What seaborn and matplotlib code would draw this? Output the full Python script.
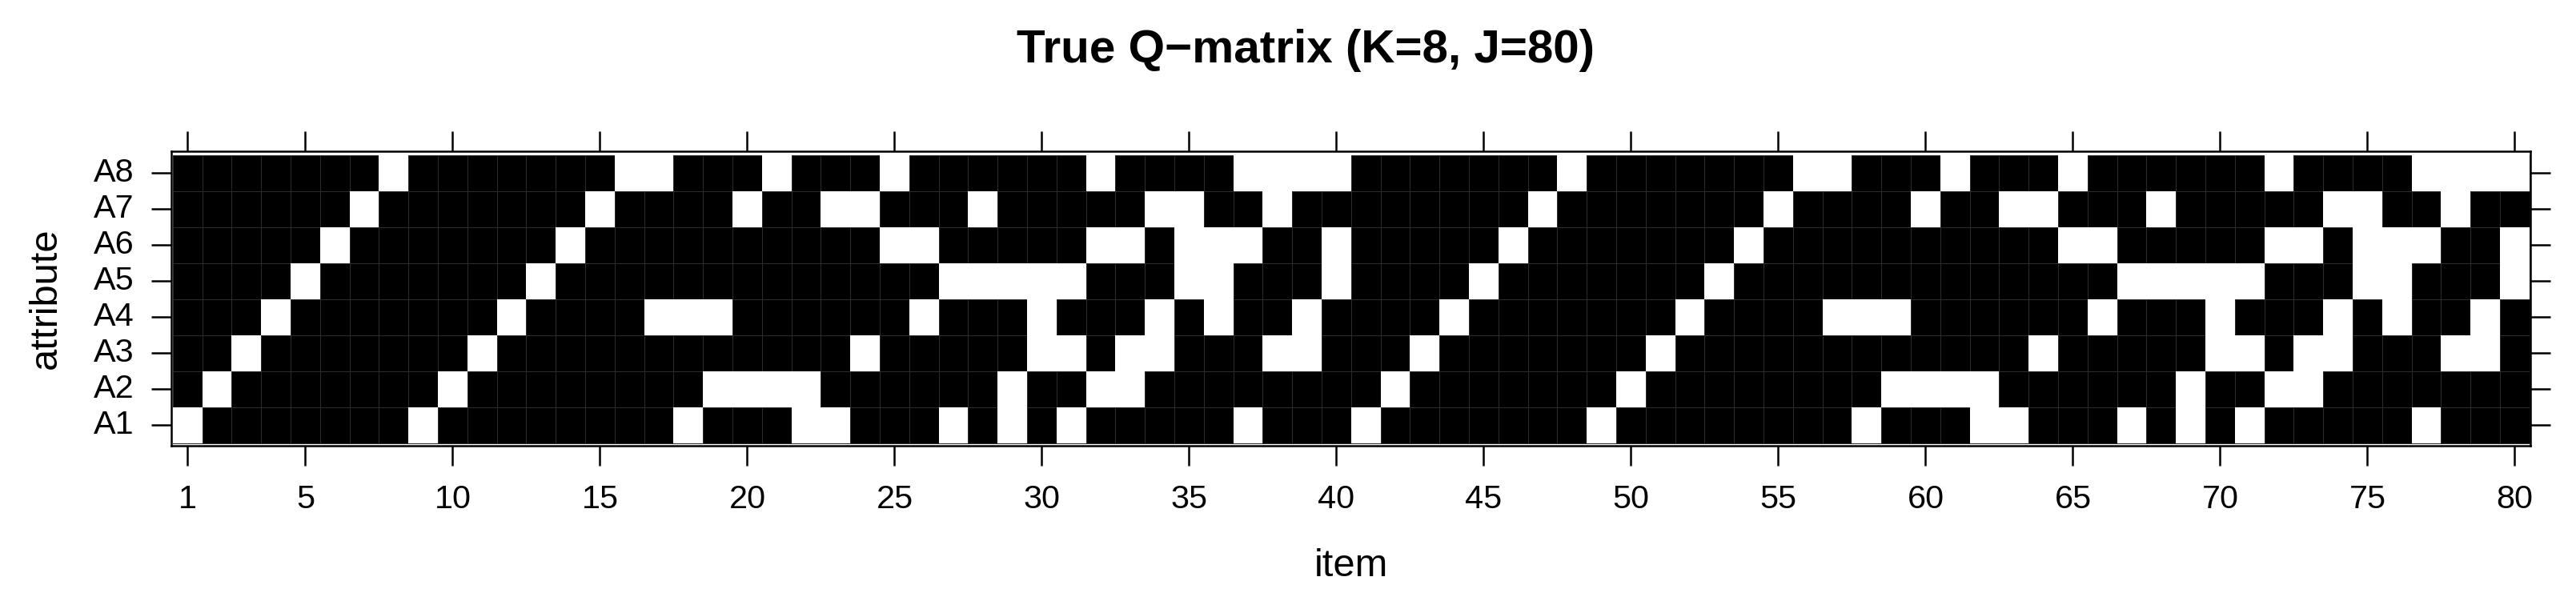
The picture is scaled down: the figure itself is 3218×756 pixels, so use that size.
import numpy as np
import pandas as pd
import matplotlib
matplotlib.use("Agg")
import matplotlib.pyplot as plt
from matplotlib.colors import ListedColormap
from matplotlib import font_manager
import seaborn as sns

# ---- data (1 = attribute required -> white, 0 -> black) ----
items = list(range(1, 81))
attributes = ["A1", "A2", "A3", "A4", "A5", "A6", "A7", "A8"]

A1 = [1,0,0,0,0,0,0,0,1,0, 0,0,0,0,0,0,0,1,0,0, 0,1,1,0,0,0,1,0,1,0, 1,0,0,0,0,0,1,0,0,0,
      1,0,0,0,0,0,0,0,1,0, 0,0,0,0,0,0,0,1,0,0, 0,1,1,0,0,0,1,0,1,0, 1,0,0,0,0,0,1,0,0,0]
A2 = [0,1,0,0,0,0,0,0,0,1, 0,0,0,0,0,0,0,0,1,1, 1,1,0,0,0,0,0,0,1,0, 0,1,1,0,0,0,0,0,0,0,
      0,1,0,0,0,0,0,0,0,1, 0,0,0,0,0,0,0,0,1,1, 1,1,0,0,0,0,0,0,1,0, 0,1,1,0,0,0,0,0,0,0]
A3 = [0,0,1,0,0,0,0,0,0,0, 1,0,0,0,0,0,0,0,0,0, 0,0,0,1,0,0,0,0,0,1, 1,0,1,1,0,0,0,1,1,0,
      0,0,1,0,0,0,0,0,0,0, 1,0,0,0,0,0,0,0,0,0, 0,0,0,1,0,0,0,0,0,1, 1,0,1,1,0,0,0,1,1,0]
A4 = [0,0,0,1,0,0,0,0,0,0, 0,1,0,0,0,0,1,1,1,0, 0,0,0,0,0,1,0,0,0,1, 0,0,0,1,0,1,0,0,1,0,
      0,0,0,1,0,0,0,0,0,0, 0,1,0,0,0,0,1,1,1,0, 0,0,0,0,0,1,0,0,0,1, 0,0,0,1,0,1,0,0,1,0]
A5 = [0,0,0,0,1,0,0,0,0,0, 0,0,1,0,0,0,0,0,0,0, 0,0,0,0,0,0,1,1,1,1, 1,0,0,0,1,1,0,0,0,1,
      0,0,0,0,1,0,0,0,0,0, 0,0,1,0,0,0,0,0,0,0, 0,0,0,0,0,0,1,1,1,1, 1,0,0,0,1,1,0,0,0,1]
A6 = [0,0,0,0,0,1,0,0,0,0, 0,0,0,1,0,0,0,0,0,0, 0,0,0,0,1,1,0,0,0,0, 0,1,1,0,1,1,1,0,0,1,
      0,0,0,0,0,1,0,0,0,0, 0,0,0,1,0,0,0,0,0,0, 0,0,0,0,1,1,0,0,0,0, 0,1,1,0,1,1,1,0,0,1]
A7 = [0,0,0,0,0,0,1,0,0,0, 0,0,0,0,1,0,0,0,0,1, 0,0,1,1,0,0,0,1,0,0, 0,0,0,1,1,0,0,1,0,0,
      0,0,0,0,0,0,1,0,0,0, 0,0,0,0,1,0,0,0,0,1, 0,0,1,1,0,0,0,1,0,0, 0,0,0,1,1,0,0,1,0,0]
A8 = [0,0,0,0,0,0,0,1,0,0, 0,0,0,0,0,1,1,0,0,0, 1,0,0,0,1,0,0,0,0,0, 0,1,0,0,0,0,1,1,1,1,
      0,0,0,0,0,0,0,1,0,0, 0,0,0,0,0,1,1,0,0,0, 1,0,0,0,1,0,0,0,0,0, 0,1,0,0,0,0,1,1,1,1]

x_tick_items = [1, 5, 10, 15, 20, 25, 30, 35, 40, 45, 50, 55, 60, 65, 70, 75, 80]
title_text = "True Q\u2212matrix (K=8, J=80)"

# table for seaborn: top row = A8
rows = {"A1": A1, "A2": A2, "A3": A3, "A4": A4, "A5": A5, "A6": A6, "A7": A7, "A8": A8}
order = attributes[::-1]
df = pd.DataFrame([rows[a] for a in order], index=order, columns=items)

# ---- style ----
sns.set_style("white")
plt.rcParams["font.family"] = ["Liberation Sans", "DejaVu Sans"]
plt.rcParams["text.color"] = "black"
plt.rcParams["axes.labelcolor"] = "black"

W, H, DPI = 3218, 756, 200
fig = plt.figure(figsize=(W / DPI, H / DPI), dpi=DPI)
# frame: x 214..3161, y 189..557 (pixels from top)
ax = fig.add_axes([214 / W, 1 - 557 / H, (3161 - 214) / W, (557 - 189) / H])

# layer 1: every cell black with faint seams
sns.heatmap(df, ax=ax, cmap=ListedColormap(["black", "black"]), vmin=0, vmax=1,
            cbar=False, linewidths=0.22, linecolor="#2c2c2c")
# layer 2: white cells (value 1) on top, no edges
sns.heatmap(df, ax=ax, mask=(df == 0), cmap=ListedColormap(["white", "white"]),
            vmin=0, vmax=1, cbar=False, linewidths=0)

ax.set_xlim(-0.05, 80.03)
ax.set_ylim(8.075, -0.11)

for s in ax.spines.values():
    s.set_visible(True)
    s.set_linewidth(0.9)
    s.set_color("black")

ax.set_xticks([i - 0.5 for i in x_tick_items])
ax.set_xticklabels([str(i) for i in x_tick_items], rotation=0)
ax.set_yticks([k + 0.5 for k in range(len(order))])
ax.set_yticklabels(order, rotation=0)

ax.tick_params(axis="x", which="major", bottom=True, top=True, labelbottom=True,
               labeltop=False, direction="out", length=8.85, width=0.9, pad=8.6,
               labelsize=14.9, colors="black")
ax.tick_params(axis="y", which="major", left=True, right=True, labelleft=True,
               labelright=False, direction="out", length=8.85, width=0.9, pad=8.0,
               labelsize=14.9, colors="black")
ax.set_xlabel("")
ax.set_ylabel("")

fig.text(1688 / W, 1 - 720 / H, "item", ha="center", va="baseline", fontsize=17.6,
         color="black")
fig.text(80 / W, 1 - 373 / H, "attribute", ha="right", va="center", rotation=90,
         fontsize=17.6, color="black")

names = {f.name for f in font_manager.fontManager.ttflist}
if "Liberation Sans Narrow" in names:
    fig.text(1630.5 / W, 1 - 78 / H, title_text, ha="center", va="baseline",
             fontsize=25.5, fontweight="bold", color="black",
             family=["Liberation Sans Narrow", "DejaVu Sans"])
else:
    fig.text(1630.5 / W, 1 - 78 / H, title_text, ha="center", va="baseline",
             fontsize=21.0, fontweight="bold", color="black",
             family=["Liberation Sans", "DejaVu Sans"])

fig.savefig("out.png", dpi=DPI, facecolor="white")
